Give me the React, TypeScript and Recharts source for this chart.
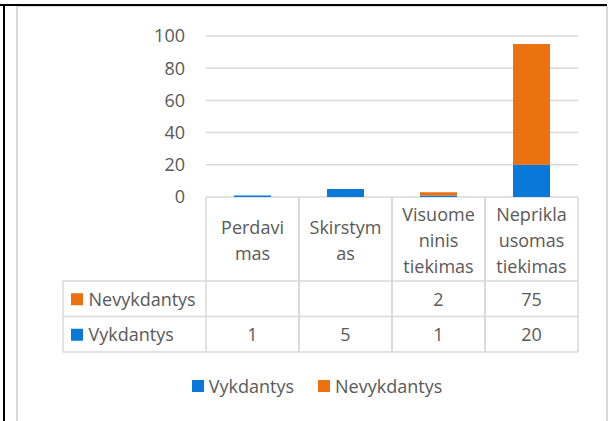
import { BarChart, Bar, XAxis, YAxis, CartesianGrid, Legend } from 'recharts';

const categories = ['Perdavimas', 'Skirstymas', 'Visuomeninis tiekimas', 'Nepriklausomas tiekimas'];
// wrapped the way the data table wraps them
const categoryLines = [
  ['Perdavi', 'mas'],
  ['Skirstym', 'as'],
  ['Visuome', 'ninis', 'tiekimas'],
  ['Neprikla', 'usomas', 'tiekimas'],
];
const vykdantys = [1, 5, 1, 20];
const nevykdantys = [null, null, 2, 75];
const yTicks = [0, 20, 40, 60, 80, 100];
const legendOrder = ['vykdantys', 'nevykdantys'];

const BLUE = '#0a78d6';
const ORANGE = '#ec7110';
const TEXT = '#595959';
const GRID = '#d9d9d9';
const FONT = '"Open Sans", sans-serif';

const data = categories.map((name, i) => ({
  name,
  vykdantys: vykdantys[i],
  nevykdantys: nevykdantys[i],
}));

const tableRows = [
  { label: 'Nevykdantys', values: nevykdantys, color: ORANGE },
  { label: 'Vykdantys', values: vykdantys, color: BLUE },
];

const HEADER_H = 84;
const ROW_H = 35.5;
const LABEL_COL_W = 143;
const LINE_H = 26;

function TableTick(props: any) {
  const { x, y, payload, index } = props;
  const half = payload?.offset || 46.5;
  const left = x - half;
  const right = x + half;
  const lines = categoryLines[index] ?? [String(payload.value)];
  const headerMid = y + HEADER_H / 2 + 2;
  const bottom = y + HEADER_H + ROW_H * tableRows.length;
  const x0 = index === 0 ? left - LABEL_COL_W : left;
  const txt = { fill: TEXT, fontSize: 18, fontFamily: FONT };

  return (
    <g>
      <line x1={left} x2={left} y1={y} y2={bottom} stroke={GRID} strokeWidth={1.5} />
      <line x1={right} x2={right} y1={y} y2={bottom} stroke={GRID} strokeWidth={1.5} />
      {lines.map((t, k) => (
        <text
          key={k}
          x={x}
          y={headerMid + (k - (lines.length - 1) / 2) * LINE_H}
          dy="0.36em"
          textAnchor="middle"
          {...txt}
        >
          {t}
        </text>
      ))}
      {tableRows.map((_, r) => (
        <line
          key={'h' + r}
          x1={x0}
          x2={right}
          y1={y + HEADER_H + ROW_H * r}
          y2={y + HEADER_H + ROW_H * r}
          stroke={GRID}
          strokeWidth={1.5}
        />
      ))}
      <line x1={x0} x2={right} y1={bottom} y2={bottom} stroke={GRID} strokeWidth={1.5} />
      {index === 0 && (
        <line x1={x0} x2={x0} y1={y + HEADER_H} y2={bottom} stroke={GRID} strokeWidth={1.5} />
      )}
      {tableRows.map((row, r) => {
        const cy = y + HEADER_H + ROW_H * (r + 0.5) + 0.5;
        const v = row.values[index];
        return (
          <g key={'r' + r}>
            {index === 0 && (
              <g>
                <rect x={x0 + 8} y={cy - 6} width={12} height={12} fill={row.color} />
                <text x={x0 + 25.5} y={cy} dy="0.36em" {...txt}>
                  {row.label}
                </text>
              </g>
            )}
            <text x={x} y={cy} dy="0.36em" textAnchor="middle" {...txt}>
              {v == null ? '' : v}
            </text>
          </g>
        );
      })}
    </g>
  );
}

function LegendContent(props: any) {
  const items = [...(props.payload || [])].sort(
    (a: any, b: any) => legendOrder.indexOf(a.dataKey) - legendOrder.indexOf(b.dataKey)
  );
  return (
    <div
      style={{
        display: 'flex',
        justifyContent: 'center',
        alignItems: 'center',
        height: 24,
        fontFamily: FONT,
        fontSize: 18,
        color: TEXT,
      }}
    >
      {items.map((it: any, i: number) => (
        <div
          key={i}
          style={{ display: 'flex', alignItems: 'center', marginLeft: i === 0 ? 0 : 24 }}
        >
          <span style={{ width: 12, height: 12, background: it.color, marginRight: 5 }} />
          <span>{it.value}</span>
        </div>
      ))}
    </div>
  );
}

export default function App() {
  return (
    <div
      style={{
        position: 'absolute',
        left: 0,
        top: 0,
        width: 609,
        height: 421,
        overflow: 'hidden',
        background: '#fff',
        fontFamily: FONT,
      }}
    >
      {/* page table frame */}
      <div style={{ position: 'absolute', left: 0, top: 4, width: 607, height: 2, background: '#000' }} />
      <div style={{ position: 'absolute', left: 3, top: 4, width: 2, height: 430, background: '#000' }} />
      {/* chart area border */}
      <div
        style={{
          position: 'absolute',
          left: 16,
          top: 6,
          width: 588,
          height: 440,
          borderLeft: `2px solid ${GRID}`,
          borderRight: `2px solid ${GRID}`,
          borderTop: `1px solid ${GRID}`,
        }}
      />
      <div style={{ position: 'absolute', left: 0, top: 0 }}>
        <BarChart
          width={609}
          height={421}
          data={data}
          margin={{ top: 36, right: 31, left: 146, bottom: 64 }}
          style={{ fontFamily: FONT }}
        >
          <CartesianGrid vertical={false} stroke={GRID} strokeWidth={1.5} />
          <XAxis
            dataKey="name"
            interval={0}
            height={160}
            axisLine={false}
            tickLine={false}
            tickSize={0}
            tickMargin={0}
            tick={(p: any) => <TableTick {...p} />}
          />
          <YAxis
            domain={[0, 100]}
            ticks={yTicks}
            width={60}
            axisLine={false}
            tickLine={false}
            tickMargin={15}
            tick={{ fill: TEXT, fontSize: 18, fontFamily: FONT }}
          />
          <Legend
            layout="horizontal"
            verticalAlign="middle"
            align="center"
            wrapperStyle={{ top: 374, left: 23, width: 588, height: 24 }}
            content={LegendContent}
          />
          <Bar dataKey="vykdantys" name="Vykdantys" stackId="a" fill={BLUE} barSize={37} isAnimationActive={false} />
          <Bar dataKey="nevykdantys" name="Nevykdantys" stackId="a" fill={ORANGE} barSize={37} isAnimationActive={false} />
        </BarChart>
      </div>
    </div>
  );
}
